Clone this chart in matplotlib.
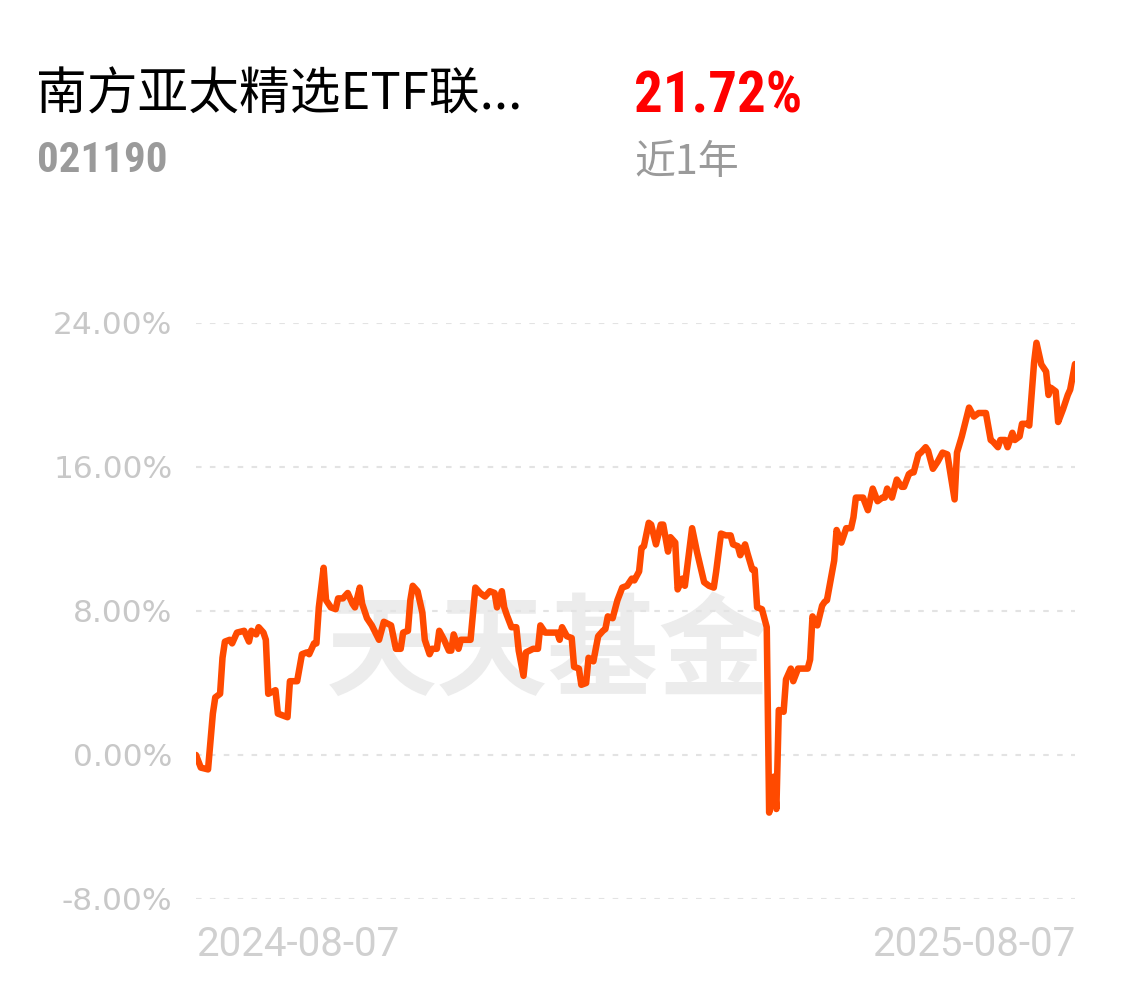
import matplotlib
matplotlib.use("Agg")
import matplotlib.pyplot as plt
import pandas as pd

# days since 2024-08-07 and cumulative return (%)
day_offsets = [
    0, 2, 5, 7, 8, 10, 11, 12, 14, 15, 17, 20, 22, 23, 25, 26, 28, 29, 30, 33,
    34, 36, 38, 39, 42, 44, 46, 47, 49, 50, 51, 53, 54, 56, 58, 59, 61, 63, 65, 66,
    68, 69, 71, 73, 76, 78, 81, 83, 85, 86, 88, 89, 90, 92, 94, 95, 97, 98, 100, 101,
    103, 105, 106, 107, 109, 110, 112, 114, 116, 118, 120, 122, 124, 125, 127, 128, 129, 131, 133, 134,
    136, 137, 140, 142, 143, 145, 148, 150, 151, 152, 154, 156, 157, 159, 160, 162, 163, 165, 167, 169,
    170, 171, 173, 175, 177, 179, 181, 182, 184, 185, 186, 188, 189, 191, 193, 194, 196, 197, 199, 200,
    202, 203, 206, 208, 211, 213, 215, 216, 218, 220, 222, 223, 225, 226, 228, 229, 231, 232, 233, 235,
    237, 238, 240, 241, 242, 244, 245, 247, 248, 250, 252, 254, 255, 256, 258, 260, 261, 262, 265, 266,
    268, 270, 272, 273, 274, 277, 279, 281, 283, 285, 286, 287, 289, 291, 293, 294, 296, 297, 298, 300,
    301, 303, 304, 306, 308, 310, 312, 315, 316, 318, 321, 323, 325, 328, 330, 331, 333, 334, 336, 337,
    339, 340, 342, 343, 345, 346, 348, 349, 351, 353, 354, 355, 357, 358, 360, 362, 363, 365,
]
returns = [
    0.0, -0.7, -0.8, 2.3, 3.2, 3.4, 5.4, 6.3, 6.4, 6.2, 6.8, 6.9, 6.3, 6.9, 6.7, 7.1, 6.8, 6.4, 3.4, 3.6,
    2.3, 2.2, 2.1, 4.1, 4.1, 5.6, 5.7, 5.6, 6.2, 6.2, 8.2, 10.4, 8.6, 8.2, 8.1, 8.7, 8.7, 9.0, 8.4, 8.2,
    9.3, 8.4, 7.6, 7.2, 6.4, 7.4, 7.2, 5.9, 5.9, 6.8, 6.9, 8.6, 9.4, 9.1, 7.9, 6.4, 5.6, 5.9, 5.9, 6.9,
    6.4, 5.8, 5.8, 6.7, 5.9, 6.4, 6.4, 6.4, 9.3, 9.0, 8.8, 9.1, 9.0, 8.2, 9.1, 8.2, 7.8, 7.1, 7.1, 5.8,
    4.4, 5.7, 5.9, 5.9, 7.2, 6.8, 6.8, 6.8, 6.4, 7.1, 6.6, 6.5, 4.9, 4.8, 3.9, 4.0, 5.4, 5.2, 6.6, 6.9,
    7.0, 7.7, 7.6, 8.6, 9.3, 9.4, 9.8, 9.7, 10.2, 11.5, 11.6, 12.9, 12.8, 11.7, 12.8, 12.8, 11.3, 12.1, 11.8, 9.2,
    9.8, 9.4, 12.6, 11.3, 9.6, 9.4, 9.3, 10.2, 12.3, 12.2, 12.2, 11.7, 11.6, 11.1, 11.7, 11.2, 10.3, 10.3, 8.2, 8.1,
    7.1, -3.2, -1.2, -3.0, 2.5, 2.4, 4.2, 4.8, 4.1, 4.8, 4.8, 4.8, 5.3, 7.7, 7.2, 8.3, 8.5, 8.6, 10.8, 12.5,
    11.8, 12.6, 12.6, 13.2, 14.3, 14.3, 13.6, 14.8, 14.1, 14.3, 14.3, 14.8, 14.3, 15.3, 14.9, 14.9, 15.6, 15.7, 15.7, 16.7,
    16.8, 17.1, 16.9, 15.9, 16.3, 16.8, 16.7, 14.2, 16.8, 17.7, 19.3, 18.8, 19.0, 19.0, 17.5, 17.4, 17.1, 17.5, 17.5, 17.1,
    17.9, 17.5, 17.7, 18.4, 18.4, 18.3, 21.8, 22.9, 21.7, 21.3, 20.0, 20.4, 20.2, 18.5, 19.2, 20.0, 20.3, 21.72,
]
start_date = "2024-08-07"
y_ticks = [-8, 0, 8, 16, 24]

fund_name = "南方亚太精选ETF联..."
fund_code = "021190"
period_return = "21.72%"
period_label = "近1年"

cjk = ["Noto Sans CJK SC", "DejaVu Sans"]
narrow = ["Roboto Condensed", "Archivo Narrow"]
plt.rcParams["lines.scale_dashes"] = False

dates = pd.Timestamp(start_date) + pd.to_timedelta(day_offsets, unit="D")

W, H = 1126, 986
fig = plt.figure(figsize=(W / 100, H / 100), dpi=100)
fig.patch.set_facecolor("white")

ax = fig.add_axes([196 / W, (H - 899) / H, (1075 - 196) / W, (899 - 323) / H])
ax.set_xlim(dates[0], dates[-1])
ax.set_ylim(-8, 24)
for s in ax.spines.values():
    s.set_visible(False)

# watermark
ax.text(0.40, 0.425, "天天基金", transform=ax.transAxes, ha="center", va="center",
        fontsize=80, fontweight="bold", color="#ececec", family=cjk, zorder=0)

for t in y_ticks:
    ax.axhline(t, color="#e3e3e3", lw=1.5, dashes=(4, 6), zorder=1)

ax.plot(dates, returns, color="#ff4a00", lw=4.7, solid_joinstyle="round",
        solid_capstyle="round", zorder=3)

ax.set_yticks(y_ticks)
ax.set_yticklabels([f"{t:.2f}%" for t in y_ticks], color="#c8c8c8", fontsize=22.5)
ax.tick_params(axis="y", length=0, pad=17)

ax.set_xticks([dates[0], dates[-1]])
ax.set_xticklabels([dates[0].strftime("%Y-%m-%d"), dates[-1].strftime("%Y-%m-%d")],
                   color="#d0d0d0", fontsize=29, family="Roboto")
ax.tick_params(axis="x", length=0, pad=19)
xl = ax.get_xticklabels()
xl[0].set_ha("left")
xl[1].set_ha("right")

# header
fig.text(36 / W, 1 - 96 / H, fund_name, fontsize=36.5, color="black", family=cjk,
         ha="left", va="center")
fig.text(37 / W, 1 - 161 / H, fund_code, fontsize=31, color="#9a9a9a", family=narrow,
         fontweight="bold", ha="left", va="center")
fig.text(634 / W, 1 - 97 / H, period_return, fontsize=41, color="#ff0000", family=narrow,
         fontweight="bold", ha="left", va="center")
fig.text(634 / W, 1 - 162 / H, period_label, fontsize=29.5, color="#9a9a9a", family=cjk,
         ha="left", va="center")

fig.savefig("out.png", dpi=100, facecolor="white")
